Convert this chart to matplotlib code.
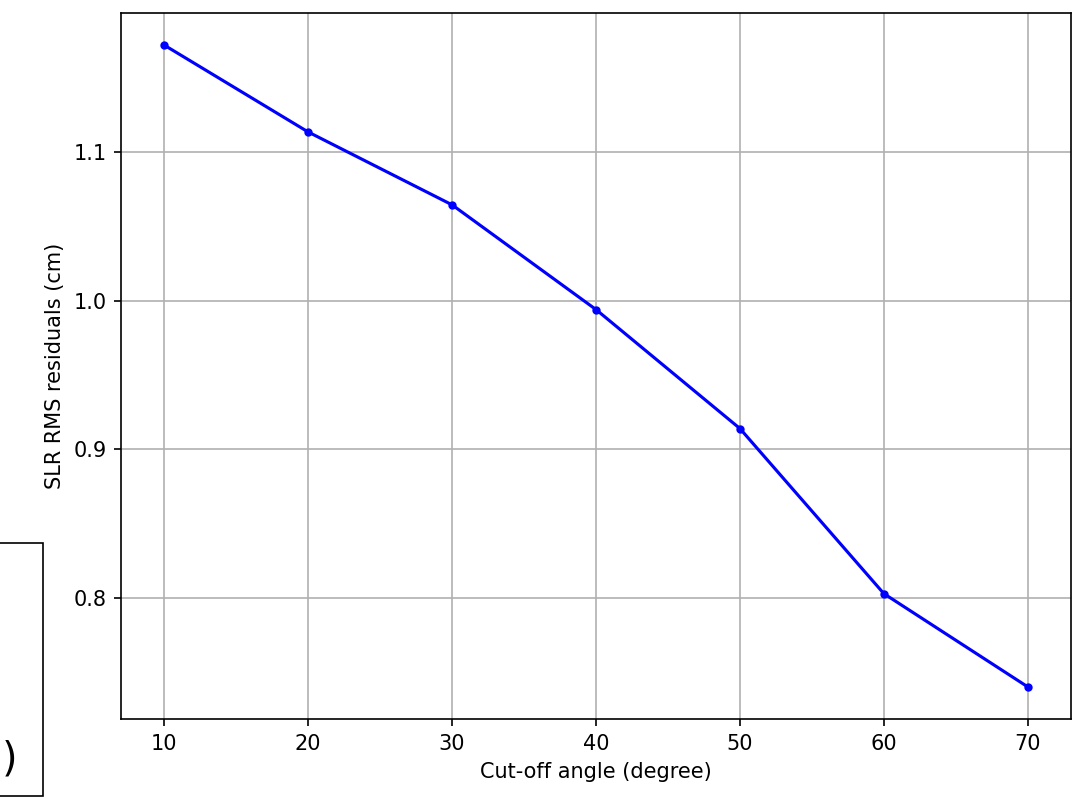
import matplotlib
matplotlib.use("Agg")
import matplotlib.pyplot as plt
from matplotlib.patches import Rectangle

angles = [10, 20, 30, 40, 50, 60, 70]
rms = [1.1718, 1.1134, 1.0644, 0.9940, 0.9140, 0.8030, 0.7403]

W, H, DPI = 1077, 808, 150
fig = plt.figure(figsize=(W / DPI, H / DPI), dpi=DPI)
ax = fig.add_axes([121 / W, 1 - 719 / H, (1071 - 121) / W, (719 - 13) / H])
ax.plot(angles, rms, 'b.-')
ax.grid(True)
ax.set_xlabel('Cut-off angle (degree)')
ax.set_ylabel('SLR RMS residuals (cm)')
ax.set_yticks([0.8, 0.9, 1.0, 1.1])

# clipped box artifact on the left edge
fig.patches.append(Rectangle((-0.05, 1 - 796 / H), 0.05 + 43 / W, (796 - 543) / H,
                             transform=fig.transFigure, fill=False,
                             edgecolor='black', linewidth=0.8, figure=fig))
fig.text(18 / W, 1 - 771 / H, '(c)', ha='right', va='baseline', fontsize=19)

fig.savefig('out.png', dpi=DPI)
